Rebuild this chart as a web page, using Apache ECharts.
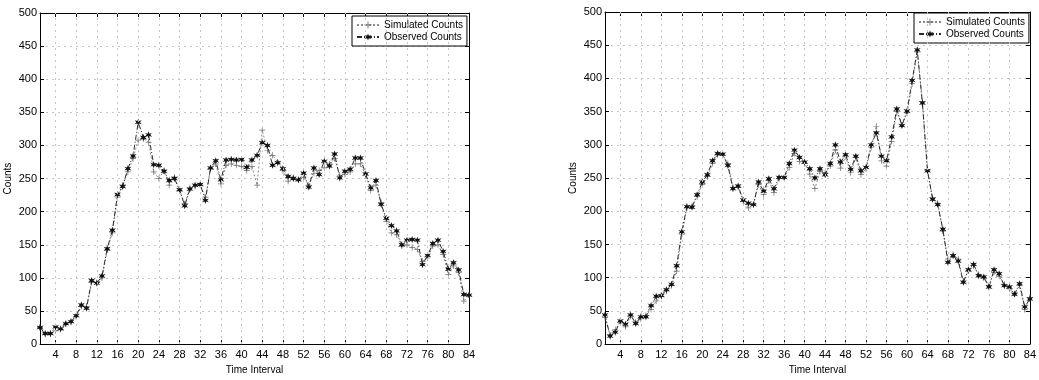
<!DOCTYPE html>
<html>
<head>
<meta charset="utf-8">
<title>Simulated vs Observed Counts</title>
<script src="https://cdn.jsdelivr.net/npm/echarts@6.0.0/dist/echarts.min.js"></script>
<style>
  html, body { margin: 0; padding: 0; background: #fff; }
  #chart { width: 1039px; height: 380px; }
</style>
</head>
<body>
<div id="chart"></div>
<script>
// Time intervals 1..84 shared by both panels
const intervals = [
  1, 2, 3, 4, 5, 6, 7, 8, 9, 10, 11, 12, 13, 14, 15, 16, 17, 18, 19, 20, 21,
  22, 23, 24, 25, 26, 27, 28, 29, 30, 31, 32, 33, 34, 35, 36, 37, 38, 39, 40, 41, 42,
  43, 44, 45, 46, 47, 48, 49, 50, 51, 52, 53, 54, 55, 56, 57, 58, 59, 60, 61, 62, 63,
  64, 65, 66, 67, 68, 69, 70, 71, 72, 73, 74, 75, 76, 77, 78, 79, 80, 81, 82, 83, 84
];
const xTicks = [4, 8, 12, 16, 20, 24, 28, 32, 36, 40, 44, 48, 52, 56, 60, 64, 68, 72, 76, 80, 84];
const yTicks = [0, 50, 100, 150, 200, 250, 300, 350, 400, 450, 500];

// Left panel
const leftSimulated = [
  25, 15, 15, 20, 22, 30, 33, 41, 57, 57, 93, 93, 100, 142, 168, 222, 240, 260, 280, 308, 310,
  305, 260, 250, 262, 240, 252, 232, 212, 236, 238, 240, 222, 265, 272, 242, 270, 272, 270, 268, 262, 268,
  240, 323, 292, 285, 275, 262, 246, 252, 248, 252, 240, 258, 262, 266, 272, 280, 255, 256, 260, 272, 272,
  255, 232, 240, 214, 185, 168, 165, 148, 150, 146, 143, 125, 130, 148, 150, 135, 105, 118, 108, 65, 74
];
const leftObserved = [
  25, 16, 16, 26, 23, 31, 34, 43, 59, 54, 96, 92, 103, 144, 172, 226, 238, 265, 284, 335, 312,
  316, 271, 270, 261, 247, 250, 233, 209, 234, 240, 241, 217, 266, 277, 248, 278, 279, 278, 279, 267, 278,
  285, 304, 300, 270, 274, 265, 253, 250, 248, 258, 237, 266, 256, 276, 269, 287, 251, 261, 264, 281, 281,
  257, 236, 247, 211, 190, 179, 171, 150, 157, 158, 157, 120, 134, 152, 157, 140, 113, 123, 112, 75, 74
];

// Right panel
const rightSimulated = [
  40, 14, 22, 33, 26, 42, 33, 38, 43, 52, 65, 72, 80, 88, 110, 165, 205, 208, 222, 240, 252,
  272, 285, 284, 272, 236, 236, 215, 205, 210, 240, 225, 246, 228, 249, 250, 266, 287, 275, 272, 256, 234,
  260, 258, 268, 292, 265, 282, 258, 281, 255, 264, 296, 328, 276, 268, 305, 350, 330, 348, 392, 440, 365,
  262, 220, 212, 170, 128, 135, 128, 95, 110, 118, 105, 100, 88, 108, 102, 90, 83, 76, 88, 52, 70
];
const rightObserved = [
  44, 12, 18, 35, 30, 44, 31, 41, 41, 58, 72, 73, 82, 90, 118, 169, 207, 206, 225, 244, 255,
  276, 287, 286, 269, 234, 238, 217, 212, 210, 244, 230, 249, 234, 251, 251, 272, 292, 281, 274, 264, 250,
  264, 255, 272, 300, 274, 285, 263, 283, 261, 266, 300, 318, 283, 276, 312, 354, 329, 351, 397, 443, 363,
  261, 218, 210, 173, 123, 133, 125, 93, 112, 120, 103, 101, 86, 112, 106, 88, 86, 75, 91, 56, 68
];

const FONT = '"Liberation Sans", Arial, Helvetica, sans-serif';
const PLUS = 'path://M4.4,0H5.6V4.4H10V5.6H5.6V10H4.4V5.6H0V4.4H4.4Z';
const STAR = 'path://M5,0L6.2,3.3L9.8,2.2L7.4,5L9.8,7.8L6.2,6.7L5,10L3.8,6.7L0.2,7.8L2.6,5L0.2,2.2L3.8,3.3Z';
const GRID_STYLE = { color: '#c4c4c4', width: 1, type: [2, 4] };

const pairs = (vals) => intervals.map((t, i) => [t, vals[i]]);

const tickIn = (vals) => ({ show: true, inside: true, length: 4, customValues: vals, lineStyle: { color: '#000' } });
const frame = { show: true, onZero: false, lineStyle: { color: '#000', width: 1 } };

function axesFor(gridIndex) {
  return {
    x: [
      {
        type: 'value', gridIndex, min: 1, max: 84, position: 'bottom',
        name: 'Time Interval', nameLocation: 'middle', nameGap: 19,
        nameTextStyle: { fontFamily: FONT, fontSize: 10, color: '#000' },
        axisLine: frame, axisTick: tickIn(xTicks),
        axisLabel: { customValues: xTicks, fontFamily: FONT, fontSize: 11, color: '#000', margin: 5 },
        splitLine: { show: false }
      },
      {
        type: 'value', gridIndex, min: 1, max: 84, position: 'top',
        axisLine: frame, axisTick: tickIn(xTicks),
        axisLabel: { show: false }, splitLine: { show: false }
      }
    ],
    y: [
      {
        type: 'value', gridIndex, min: 0, max: 500, interval: 50, position: 'left',
        name: 'Counts', nameLocation: 'middle', nameGap: 27,
        nameTextStyle: { fontFamily: FONT, fontSize: 10, color: '#000' },
        axisLine: frame, axisTick: tickIn(yTicks),
        axisLabel: { fontFamily: FONT, fontSize: 11, color: '#000', margin: 3 },
        splitLine: { show: true, lineStyle: GRID_STYLE }
      },
      {
        type: 'value', gridIndex, min: 0, max: 500, interval: 50, position: 'right',
        axisLine: frame, axisTick: tickIn(yTicks),
        axisLabel: { show: false }, splitLine: { show: false }
      }
    ]
  };
}

const a0 = axesFor(0), a1 = axesFor(1);

// vertical grid lines at the labelled intervals (the last one sits on the frame)
const verticalGrid = {
  silent: true, symbol: 'none', animation: false,
  label: { show: false },
  lineStyle: GRID_STYLE,
  data: xTicks.slice(0, -1).map(v => ({ xAxis: v }))
};

function simSeries(data, xi, yi) {
  return {
    name: 'Simulated Counts', type: 'line', xAxisIndex: xi, yAxisIndex: yi,
    data: pairs(data), symbol: PLUS, symbolSize: 6, showSymbol: true,
    lineStyle: { color: '#8a8a8a', width: 1, type: [2, 2] },
    itemStyle: { color: '#6e6e6e' },
    markLine: verticalGrid,
    animation: false, z: 2
  };
}
function obsSeries(data, xi, yi) {
  return {
    name: 'Observed Counts', type: 'line', xAxisIndex: xi, yAxisIndex: yi,
    data: pairs(data), symbol: STAR, symbolSize: 7, showSymbol: true,
    lineStyle: { color: '#2a2a2a', width: 1, type: [5, 2, 1, 2] },
    itemStyle: { color: '#111' },
    animation: false, z: 3
  };
}

function legendAt(left, top) {
  return {
    data: ['Simulated Counts', 'Observed Counts'],
    orient: 'vertical', left, top,
    itemWidth: 22, itemHeight: 9, itemGap: 2,
    padding: [4, 4, 4, 4],
    backgroundColor: '#fff', borderColor: '#000', borderWidth: 1,
    textStyle: { fontFamily: FONT, fontSize: 10, color: '#000' },
    selectedMode: false
  };
}

const chart = echarts.init(document.getElementById('chart'), null, { renderer: 'canvas' });
chart.setOption({
  backgroundColor: '#fff',
  animation: false,
  grid: [
    { left: 40, top: 13, width: 429, height: 339 },
    { left: 605, top: 12, width: 431, height: 340 }
  ],
  xAxis: [...a0.x, ...a1.x],
  yAxis: [...a0.y, ...a1.y],
  legend: [legendAt(352, 16), legendAt(914, 13)],
  series: [
    simSeries(leftSimulated, 0, 0),
    obsSeries(leftObserved, 0, 0),
    simSeries(rightSimulated, 2, 2),
    obsSeries(rightObserved, 2, 2)
  ]
});
</script>
</body>
</html>
